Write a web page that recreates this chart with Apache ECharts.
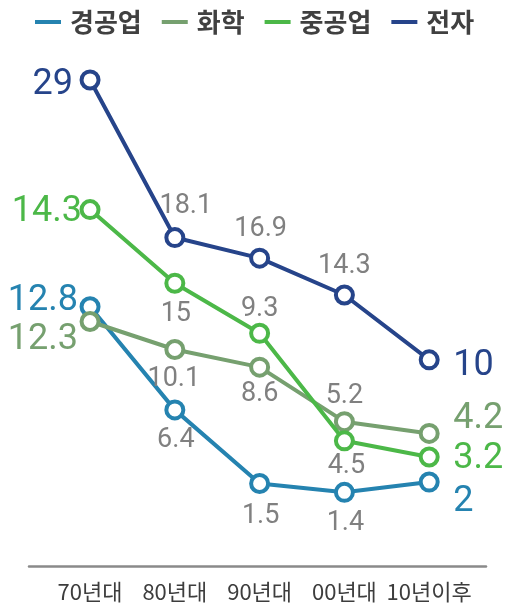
<!DOCTYPE html>
<html><head><meta charset="utf-8">
<script src="https://cdn.jsdelivr.net/npm/echarts@6/dist/echarts.min.js"></script>
<style>html,body{margin:0;padding:0;background:#fff}#c{width:506px;height:611px}</style>
</head><body><div id="c"></div>
<script>
// categories and series
const categories = ['70년대', '80년대', '90년대', '00년대', '10년이후'];
const seriesNames = ['경공업', '화학', '중공업', '전자'];

// printed values (labels)
const lightLabels = [12.8, 6.4, 1.5, 1.4, 2];
const chemLabels  = [12.3, 10.1, 8.6, 5.2, 4.2];
const heavyLabels = [14.3, 15, 9.3, 4.5, 3.2];
const elecLabels  = [29, 18.1, 16.9, 14.3, 10];

// heights as drawn in the reference picture
const lightValues = [13.6, 6.6, 1.6, 1.0, 1.7];
const chemValues  = [12.6, 10.7, 9.5, 5.8, 5.0];
const heavyValues = [20.2, 15.2, 11.8, 4.5, 3.4];
const elecValues  = [29, 18.3, 16.9, 14.4, 10];

// styling (kept apart from data)
const colors = ['#2583b0', '#76a06f', '#4cb848', '#26448a'];
const labelOffsets = [
  [[-12, -6], [1, 30], [1, 33], [1, 31], [24, 20]],
  [[-12, 18], [-1, 30], [0, 27], [0, -25], [24, -14]],
  [[-8, 2], [1, 31], [0, -24], [2, 25], [24, 2]],
  [[-17, 5], [11, -31], [1, -29], [0, -29], [24, 6]]
];

const allValues = [lightValues, chemValues, heavyValues, elecValues];
const allLabels = [lightLabels, chemLabels, heavyLabels, elecLabels];

function makeSeries(k) {
  const color = colors[k];
  const labels = allLabels[k];
  const last = allValues[k].length - 1;
  return {
    name: seriesNames[k],
    type: 'line',
    z: 2 + k,
    symbol: 'circle',
    symbolSize: 17,
    lineStyle: { color: color, width: 4 },
    itemStyle: { color: '#fff', borderColor: color, borderWidth: 4 },
    emphasis: { disabled: true },
    label: {
      show: true,
      position: 'inside',
      fontFamily: 'Roboto',
      fontSize: 27,
      color: '#808080',
      formatter: p => String(labels[p.dataIndex])
    },
    data: allValues[k].map((v, i) => {
      const lab = { offset: labelOffsets[k][i] };
      if (i === 0) Object.assign(lab, { align: 'right', color: color, fontSize: 36 });
      if (i === last) Object.assign(lab, { align: 'left', color: color, fontSize: 36 });
      return { value: [i, v], label: lab };
    })
  };
}

const chart = echarts.init(document.getElementById('c'), null, { renderer: 'canvas' });
chart.setOption({
  animation: false,
  backgroundColor: '#fff',
  legend: {
    left: 30,
    top: 4,
    itemWidth: 26,
    itemHeight: 4,
    itemGap: 20,
    icon: 'rect',
    data: seriesNames.map((n, k) => ({ name: n, itemStyle: { color: colors[k], borderWidth: 0 } })),
    textStyle: { fontFamily: 'Noto Sans CJK KR', fontSize: 26, fontWeight: 'bold', color: '#404040', padding: [0, 0, 0, 4] }
  },
  grid: { left: 29, right: 20, top: 50.5, bottom: 45 },
  xAxis: {
    type: 'value',
    min: -0.72,
    max: 4.67,
    splitLine: { show: false },
    axisTick: { show: false },
    axisLine: { show: true, onZero: false, lineStyle: { color: '#8a8a8a', width: 2.5 } },
    axisLabel: {
      customValues: [0, 1, 2, 3, 4],
      formatter: v => categories[Math.round(v)],
      fontFamily: 'Noto Sans CJK KR',
      fontSize: 22,
      color: '#3d3d3d',
      margin: 15
    }
  },
  yAxis: { type: 'value', min: -4, max: 31, show: false },
  series: [0, 1, 2, 3].map(makeSeries)
});
</script>
</body></html>
